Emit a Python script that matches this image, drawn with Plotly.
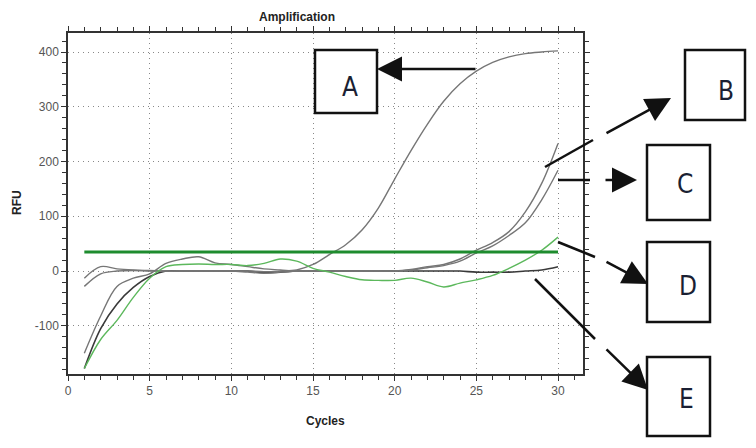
import plotly.graph_objects as go

cycles = list(range(1, 31))

curve_a = [-13, 8, 4, 2, 1, 0, 0, 0, 0, 0, 0, -1, 0, 2, 12, 30, 48, 75, 115, 168,
           220, 268, 310, 342, 365, 381, 391, 397, 400, 402]
curve_b = [-28, -5, 0, 1, 0, 0, 0, 0, 0, 0, -2, -4, -2, 0, 0, 0, 0, 0, 0, 0,
           3, 8, 12, 22, 38, 52, 72, 108, 160, 233]
curve_c = [-150, -82, -28, -13, -5, 14, 22, 26, 15, 12, 8, 4, 2, 0, 0, 0, 0, 0, 0, 0,
           2, 6, 10, 18, 33, 46, 65, 88, 130, 184]
curve_d = [-178, -125, -90, -48, -13, 8, 12, 13, 12, 12, 10, 14, 22, 18, 5, -2, -10, -16, -17, -17,
           -13, -20, -29, -22, -16, -8, 5, 20, 38, 62]
curve_e = [-178, -105, -60, -30, -10, 0, 0, 0, 0, 0, 0, -3, -2, 0, 0, 0, 0, 0, 0, 0,
           0, 0, 0, 0, -2, -2, -2, 0, 2, 8]
threshold_x = [1, 30]
threshold_y = [35, 35]

y_ticks = [-100, 0, 100, 200, 300, 400]
y_ticktext = ["-100", "0", "100", "200", "300", "400"]
box_labels = ["A", "B", "C", "D", "E"]

# page has an 8px body margin; screen pixel positions are converted below
OFF = 8
W, H = 756 - 2 * OFF, 448 - 2 * OFF
# plot area in screen pixels: left 68, right 583, top 33, bottom 374
L, R, T, B = 68, 583, 33, 374


def px(x, y):
    return (x - L) / (R - L), (B - y) / (B - T)


fig = go.Figure()
for ys, col, w in [(curve_e, "#3a3a3a", 1.6), (curve_b, "#767676", 1.4),
                   (curve_c, "#767676", 1.4), (curve_a, "#767676", 1.4)]:
    fig.add_trace(go.Scatter(x=cycles, y=ys, mode="lines", line=dict(color=col, width=w, shape="spline")))
fig.add_trace(go.Scatter(x=cycles, y=curve_d, mode="lines", line=dict(color="#5cb85c", width=1.4, shape="spline")))
fig.add_trace(go.Scatter(x=threshold_x, y=threshold_y, mode="lines", line=dict(color="#1e8c2e", width=3)))

axis_common = dict(showline=True, linecolor="#333", linewidth=1.5, mirror="ticks",
                   ticks="outside", ticklen=5, tickcolor="#333",
                   showgrid=True, gridcolor="#888", griddash="1px,4px", gridwidth=1,
                   zeroline=False, tickfont=dict(family="Liberation Sans", size=12, color="#555"))
fig.update_xaxes(range=[0, 31.53], dtick=5, tick0=0,
                 minor=dict(dtick=1, ticks="outside", ticklen=4, tickcolor="#333", showgrid=False),
                 **axis_common)
fig.update_yaxes(range=[-188, 434.7], tickvals=y_ticks, ticktext=y_ticktext,
                 minor=dict(dtick=20, tick0=0, ticks="outside", ticklen=4, tickcolor="#333", showgrid=False),
                 **axis_common)

shapes = []
annotations = []

# boxes with letters
boxes = [(315, 50, 377, 113, 350, 87), (685, 50, 745, 120, 726, 91),
         (647, 145, 710, 220, 685, 184), (647, 242, 710, 322, 688, 286),
         (647, 357, 710, 436, 686, 399)]
for lab, (x0, y0, x1, y1, tx, ty) in zip(box_labels, boxes):
    a0 = px(x0, y1)
    a1 = px(x1, y0)
    shapes.append(dict(type="rect", xref="paper", yref="paper", x0=a0[0], y0=a0[1], x1=a1[0], y1=a1[1],
                       line=dict(color="#111", width=2.5), fillcolor="white"))
    p = px(tx, ty)
    annotations.append(dict(x=p[0], y=p[1], xref="paper", yref="paper", text=lab, showarrow=False,
                            xanchor="center", yanchor="middle",
                            font=dict(family="Liberation Sans Narrow, DejaVu Sans Condensed, Roboto", size=26,
                                      color="#1a1f33")))

# arrows: (first segment start, first segment end, second segment start, head)
arrows = [((477, 69), None, (477, 69), (377, 69)),
          ((545, 167), (593, 140), (605, 134), (671, 98)),
          ((558, 180), (590, 180), (604, 180), (637, 180)),
          ((558, 242), (595, 257), (605, 261), (648, 284)),
          ((535, 279), (595, 339), (605, 348), (648, 390))]
for s0, s1, t0, h in arrows:
    if s1 is not None:
        p0 = px(*s0)
        p1 = px(*s1)
        shapes.append(dict(type="line", xref="paper", yref="paper", x0=p0[0], y0=p0[1], x1=p1[0], y1=p1[1],
                           line=dict(color="#111", width=2.5)))
    ph = px(*h)
    annotations.append(dict(x=ph[0], y=ph[1], xref="paper", yref="paper", text="", showarrow=True,
                            ax=t0[0] - h[0], ay=t0[1] - h[1], arrowhead=2, arrowsize=2,
                            arrowwidth=2.5, arrowcolor="#111", standoff=0))

for txt, (tx, ty), ang in [("<b>Amplification</b>", (297, 17), 0), ("<b>Cycles</b>", (325, 421), 0),
                           ("<b>RFU</b>", (17, 203), -90)]:
    p = px(tx, ty)
    annotations.append(dict(x=p[0], y=p[1], xref="paper", yref="paper", text=txt, showarrow=False,
                            xanchor="center", yanchor="middle", textangle=ang,
                            font=dict(family="Liberation Sans", size=12, color="#222")))

fig.update_layout(width=W, height=H,
                  margin=dict(l=L - OFF, r=756 - OFF - R, t=T - OFF, b=448 - OFF - B),
                  plot_bgcolor="white", paper_bgcolor="white", showlegend=False,
                  shapes=shapes, annotations=annotations)

fig.write_html("out.html")
